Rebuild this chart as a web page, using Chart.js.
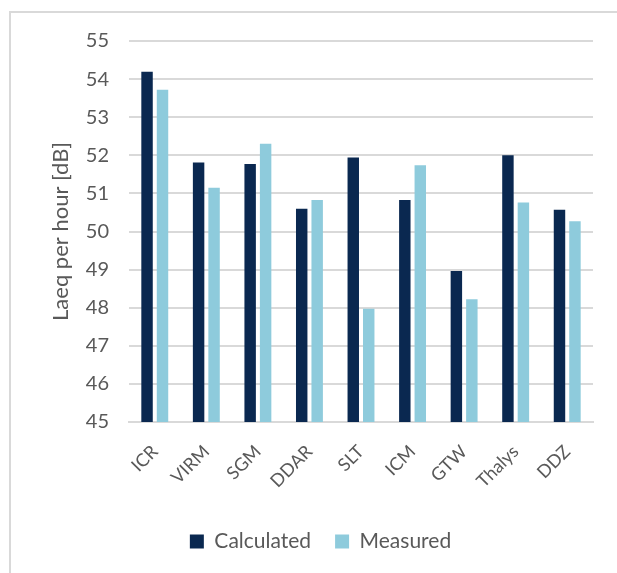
<!DOCTYPE html>
<html><head><meta charset="utf-8">
<script src="https://cdn.jsdelivr.net/npm/chart.js@4"></script>
<style>
html,body{margin:0;padding:0;background:#fff;}
#wrap{position:relative;width:617px;height:573px;overflow:hidden;}
#frame{position:absolute;left:9px;top:11px;width:700px;height:700px;border:2px solid #d9d9d9;box-sizing:border-box;}
canvas{position:absolute;left:0;top:0;}
</style></head>
<body>
<div id="wrap"><div id="frame"></div><canvas id="c" width="617" height="573"></canvas></div>
<script>
const categories = ["ICR","VIRM","SGM","DDAR","SLT","ICM","GTW","Thalys","DDZ"];
const calculated = [54.19,51.81,51.77,50.60,51.94,50.83,48.96,52.00,50.57];
const measured   = [53.72,51.15,52.30,50.83,47.97,51.74,48.22,50.76,50.27];
const yTicks = [45,46,47,48,49,50,51,52,53,54,55];

const FONT = "Lato, 'Open Sans', sans-serif";
const grey = "#595959";
new Chart(document.getElementById('c'), {
  type: 'bar',
  data: {
    labels: categories,
    datasets: [
      {label:'Calculated', data: calculated, backgroundColor:'#0a2850', borderWidth:0, barPercentage:0.74, categoryPercentage:0.6},
      {label:'Measured', data: measured, backgroundColor:'#8ecbdc', borderWidth:0, barPercentage:0.74, categoryPercentage:0.6}
    ]
  },
  options: {
    responsive:false, animation:false,
    layout:{padding:{left:48,right:24,top:41,bottom:11}},
    plugins:{
      tooltip:{enabled:false},
      legend:{position:'bottom',
        labels:{font:{family:FONT,size:21},color:grey,boxWidth:14,boxHeight:14,padding:24}}
    },
    scales:{
      x:{
        grid:{display:false},
        border:{color:'#d9d9d9',width:2},
        ticks:{font:{family:FONT,size:18},color:grey,maxRotation:45,minRotation:45,padding:11},
        afterFit(s){s.height=85;}
      },
      y:{
        min:45,max:55,
        afterBuildTicks(s){s.ticks = yTicks.map(v=>({value:v}));},
        grid:{color:'#d9d9d9',lineWidth:2,drawTicks:false},
        border:{display:false},
        ticks:{font:{family:FONT,size:20},color:grey,padding:20},
        title:{display:true,text:'Laeq per hour [dB]',font:{family:FONT,size:22},color:grey,padding:{top:0,bottom:10}},
        afterFit(s){s.width=81;}
      }
    }
  }
});
</script>
</body></html>
